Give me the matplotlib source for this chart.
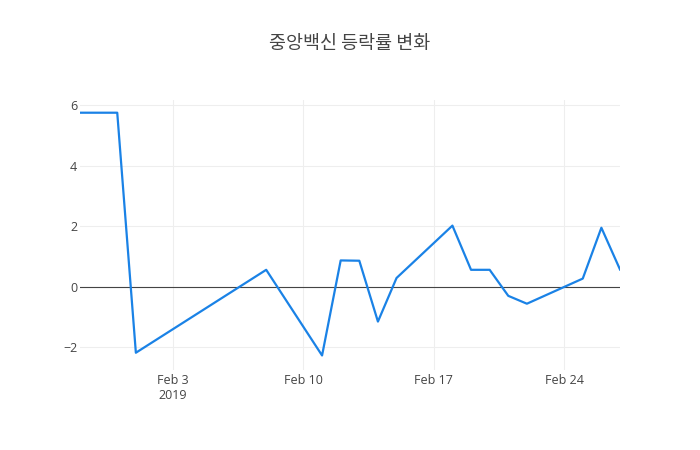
import matplotlib.pyplot as plt
import matplotlib.dates as mdates
import pandas as pd

dates = ['2019-01-29', '2019-01-31', '2019-02-01', '2019-02-08', '2019-02-11',
         '2019-02-12', '2019-02-13', '2019-02-14', '2019-02-15', '2019-02-18',
         '2019-02-19', '2019-02-20', '2019-02-21', '2019-02-22', '2019-02-25',
         '2019-02-26', '2019-02-27']
rates = [5.75, 5.75, -2.18, 0.56, -2.27,
         0.87, 0.86, -1.15, 0.29, 2.02,
         0.56, 0.56, -0.30, -0.56, 0.27,
         1.95, 0.57]
tick_dates = ['2019-02-03', '2019-02-10', '2019-02-17', '2019-02-24']
tick_labels = ['Feb 3\n2019', 'Feb 10', 'Feb 17', 'Feb 24']
title = '중앙백신 등락률 변화'

x = pd.to_datetime(dates)

plt.rcParams['font.family'] = ['Open Sans', 'Noto Sans CJK KR', 'DejaVu Sans']

fig = plt.figure(figsize=(7, 4.5), dpi=100)
ax = fig.add_axes([80 / 700, 80 / 450, 540 / 700, 270 / 450])

# plotly-like widths: 2px line, 1px zero line and grid
ax.plot(x, rates, color='#1a82e6', linewidth=1.6, zorder=3)
ax.axhline(0, color='#444444', linewidth=0.8, zorder=2)

ax.set_xlim(x[0], x[-1])
ax.set_ylim(-2.75, 6.17)
ax.set_yticks([-2, 0, 2, 4, 6])
ax.set_yticklabels(['\u22122', '0', '2', '4', '6'])
ax.set_xticks(pd.to_datetime(tick_dates))
ax.set_xticklabels(tick_labels, linespacing=1.15)

ax.grid(True, color='#eeeeee', linewidth=0.8, zorder=0)
for s in ax.spines.values():
    s.set_visible(False)
ax.tick_params(length=0, labelsize=9, labelcolor='#444444')
ax.tick_params(axis='x', pad=3)
ax.tick_params(axis='y', pad=2)

fig.text(0.5, 1 - 44 / 450, title, ha='center', va='center', fontsize=13.3,
         color='#444444', family=['Noto Sans CJK KR', 'DejaVu Sans'])

fig.savefig('out.png', dpi=100)
